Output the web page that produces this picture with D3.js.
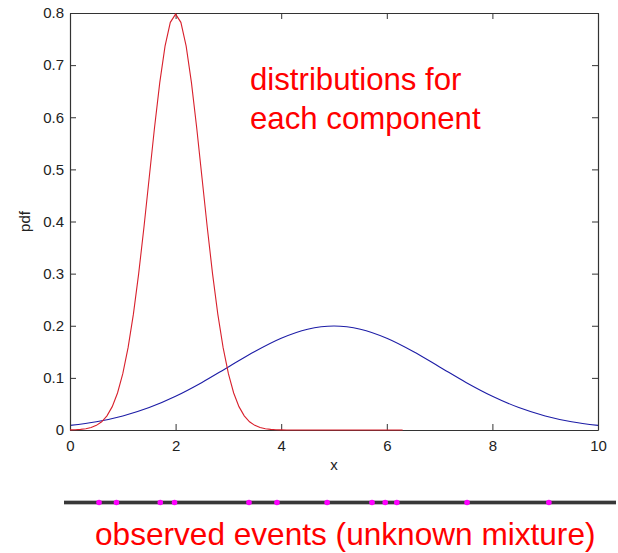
<!DOCTYPE html>
<html>
<head>
<meta charset="utf-8">
<script src="https://cdn.jsdelivr.net/npm/d3@7"></script>
<style>
  html, body { margin: 0; padding: 0; background: #fff; }
  svg { display: block; font-family: "Liberation Sans", Arial, sans-serif; }
</style>
</head>
<body>
<svg id="chart" width="618" height="553"></svg>
<script>
// ---- data ----
const xTicks = [0, 2, 4, 6, 8, 10];
const yTicks = [0, 0.1, 0.2, 0.3, 0.4, 0.5, 0.6, 0.7, 0.8];

// red component (narrow), sampled every 0.1 from x = 0 to 6.3
const redStep = 0.1;
const redValues = [
  0.0003, 0.0006, 0.0012, 0.0025, 0.0048, 0.0089, 0.0158, 0.0272, 0.0448, 0.0710,
  0.1080, 0.1579, 0.2218, 0.2995, 0.3884, 0.4839, 0.5794, 0.6665, 0.7365, 0.7821,
  0.7979, 0.7821, 0.7365, 0.6665, 0.5794, 0.4839, 0.3884, 0.2995, 0.2218, 0.1579,
  0.1080, 0.0710, 0.0448, 0.0272, 0.0158, 0.0089, 0.0048, 0.0025, 0.0012, 0.0006,
  0.0003, 0.0001, 0.0001, 0.0000, 0.0000, 0.0000, 0.0000, 0.0000, 0.0000, 0.0000,
  0.0000, 0.0000, 0.0000, 0.0000, 0.0000, 0.0000, 0.0000, 0.0000, 0.0000, 0.0000,
  0.0000, 0.0000, 0.0000, 0.0000
];

// blue component (wide), sampled every 0.5 from x = 0 to 10
const blueStep = 0.5;
const blueValues = [
  0.0088, 0.0159, 0.0270, 0.0431, 0.0648, 0.0913, 0.1210, 0.1506, 0.1760, 0.1933,
  0.1995, 0.1933, 0.1760, 0.1506, 0.1210, 0.0913, 0.0648, 0.0431, 0.0270, 0.0159,
  0.0088
];

// observed events (x positions along the same x scale)
const events = [0.55, 0.88, 1.71, 1.98, 3.39, 3.92, 4.87, 5.72, 5.97, 6.19, 7.52, 9.07];

// ---- layout ----
const margin = { left: 70, right: 20, top: 13, bottom: 123 };
const W = 618, H = 553;
const plotW = W - margin.left - margin.right; // 528
const plotH = H - margin.top - margin.bottom; // 417

const svg = d3.select("#chart");
const g = svg.append("g").attr("transform", `translate(${margin.left},${margin.top})`);

const x = d3.scaleLinear().domain([0, 10]).range([0, plotW]);
const y = d3.scaleLinear().domain([0, 0.8]).range([plotH, 0]);

const axisColor = "#333";
const tickFont = 15;

// ---- curves ----
const redData = redValues.map((v, i) => [i * redStep, v]);
const blueData = blueValues.map((v, i) => [i * blueStep, v]);

const line = d3.line().x(d => x(d[0])).y(d => y(d[1]));

g.append("path").datum(blueData)
  .attr("d", line.curve(d3.curveMonotoneX))
  .attr("fill", "none").attr("stroke", "#1c1ca6").attr("stroke-width", 1.1);

// ---- axes (box with inward ticks) ----
const tickLen = 6;
const axB = d3.axisBottom(x).tickValues(xTicks).tickSize(-tickLen).tickSizeOuter(0).tickPadding(10).tickFormat(d3.format("d"));
const axT = d3.axisTop(x).tickValues(xTicks).tickSize(-tickLen).tickSizeOuter(0).tickFormat("");
const axL = d3.axisLeft(y).tickValues(yTicks).tickSize(-tickLen).tickSizeOuter(0).tickPadding(6).tickFormat(d => d === 0 ? "0" : d3.format(".1f")(d));
const axR = d3.axisRight(y).tickValues(yTicks).tickSize(-tickLen).tickSizeOuter(0).tickFormat("");

function styleAxis(sel) {
  sel.select(".domain").attr("stroke", axisColor).attr("stroke-width", 1.2);
  sel.selectAll(".tick line").attr("stroke", axisColor).attr("stroke-width", 1);
  sel.selectAll(".tick text").attr("fill", "#222").attr("font-size", tickFont)
     .attr("font-family", "'Liberation Sans', Arial, sans-serif");
}

g.append("g").attr("transform", `translate(0,${plotH})`).call(axB).call(styleAxis);
g.append("g").call(axT).call(styleAxis);
g.append("g").call(axL).call(styleAxis);
g.append("g").attr("transform", `translate(${plotW},0)`).call(axR).call(styleAxis);

g.append("path").datum(redData)
  .attr("d", line.curve(d3.curveLinear))
  .attr("fill", "none").attr("stroke", "#d8202c").attr("stroke-width", 1.1);

// axis labels
g.append("text")
  .attr("x", x(5)).attr("y", plotH + 40)
  .attr("text-anchor", "middle").attr("font-size", tickFont).attr("fill", "#222")
  .text("x");
g.append("text")
  .attr("transform", `translate(${-40},${plotH / 2}) rotate(-90)`)
  .attr("text-anchor", "middle").attr("font-size", tickFont).attr("fill", "#222")
  .text("pdf");

// annotation
const ann = svg.append("text").attr("font-size", 31.2).attr("fill", "#ff0000");
ann.append("tspan").attr("x", 250).attr("y", 90).text("distributions for");
ann.append("tspan").attr("x", 250).attr("y", 129).text("each component");

// ---- observed events line ----
const eventsY = 502.5;
svg.append("line")
  .attr("x1", 64).attr("x2", 616).attr("y1", eventsY).attr("y2", eventsY)
  .attr("stroke", "#bbb").attr("stroke-width", 5);
svg.append("line")
  .attr("x1", 64).attr("x2", 616).attr("y1", eventsY).attr("y2", eventsY)
  .attr("stroke", "#383838").attr("stroke-width", 3);

svg.append("g").selectAll("circle").data(events).join("circle")
  .attr("cx", d => margin.left + x(d)).attr("cy", eventsY).attr("r", 2.8)
  .attr("fill", "#ff00ff");

svg.append("text")
  .attr("x", 95).attr("y", 545).attr("font-size", 31.6).attr("fill", "#ff0000")
  .text("observed events (unknown mixture)");
</script>
</body>
</html>
